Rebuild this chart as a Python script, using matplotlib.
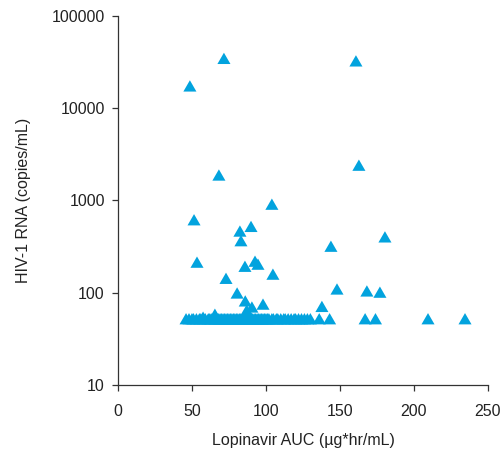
import matplotlib
matplotlib.use('Agg')
import matplotlib.pyplot as plt
from matplotlib.ticker import FixedLocator, FixedFormatter

plt.rcParams['font.family'] = ['Liberation Sans', 'DejaVu Sans']

# patients at the detection limit (plotted at 50 copies/mL)
auc_low = [46, 48, 50, 51, 53, 55, 56, 58, 59, 61, 62, 63, 65, 66, 67, 68, 69,
           70, 71, 72, 73, 74, 75, 76, 77, 78, 79, 80, 81, 82, 83, 84, 85, 86,
           87, 88, 89, 90, 91, 92, 93, 94, 95, 96, 97, 98, 99, 100, 101, 102,
           104, 105, 107, 108, 110, 112, 113, 115, 117, 119, 120, 122, 124,
           126, 128, 130, 136, 143, 167, 174, 209.5, 234.5]
rna_low = [50] * len(auc_low)

# detectable viral load
auc_high = [48.6, 71.6, 160.8, 162.8, 68.2, 104, 51.4, 89.9, 82.4, 83.1, 180.4,
            143.9, 53.4, 85.8, 73, 92.6, 94.6, 104.7, 148, 137.8, 168.2, 177,
            80.5, 86, 90.5, 98, 87, 57.5, 65.5]
rna_high = [16600, 33000, 31000, 2300, 1800, 870, 590, 500, 445, 350, 385,
            305, 205, 185, 137, 210, 195, 152, 105, 68, 100, 97,
            95, 78, 67, 72, 62, 52, 56]

color = '#02a3de'

fig = plt.figure(figsize=(5.02, 4.51), dpi=100)
ax = fig.add_axes([0.235, 0.146, 0.737, 0.819])

ax.scatter(auc_low, rna_low, marker=(3, 0, 0), s=118, color=color, edgecolors='none')
ax.scatter(auc_high, rna_high, marker=(3, 0, 0), s=118, color=color, edgecolors='none')

ax.set_yscale('log')
ax.set_xlim(0, 250)
ax.set_ylim(10, 100000)

yt = [10, 100, 1000, 10000, 100000]
ax.yaxis.set_major_locator(FixedLocator(yt))
ax.yaxis.set_major_formatter(FixedFormatter([str(v) for v in yt]))
ax.yaxis.set_minor_locator(FixedLocator([]))
ax.set_xticks([0, 50, 100, 150, 200, 250])

for side in ['top', 'right']:
    ax.spines[side].set_visible(False)
for side in ['left', 'bottom']:
    ax.spines[side].set_color('#333333')
    ax.spines[side].set_linewidth(0.9)

ax.tick_params(direction='out', length=4.5, width=0.9, color='#333333',
               labelsize=11.5, labelcolor='#222222')
ax.tick_params(axis='y', pad=5)
ax.tick_params(axis='x', pad=9)

ax.set_xlabel('Lopinavir AUC (µg*hr/mL)', fontsize=11.5, color='#222222', labelpad=10)
ax.set_ylabel('HIV-1 RNA (copies/mL)', fontsize=11.5, color='#222222', labelpad=15)

fig.savefig('out.png', dpi=100)
